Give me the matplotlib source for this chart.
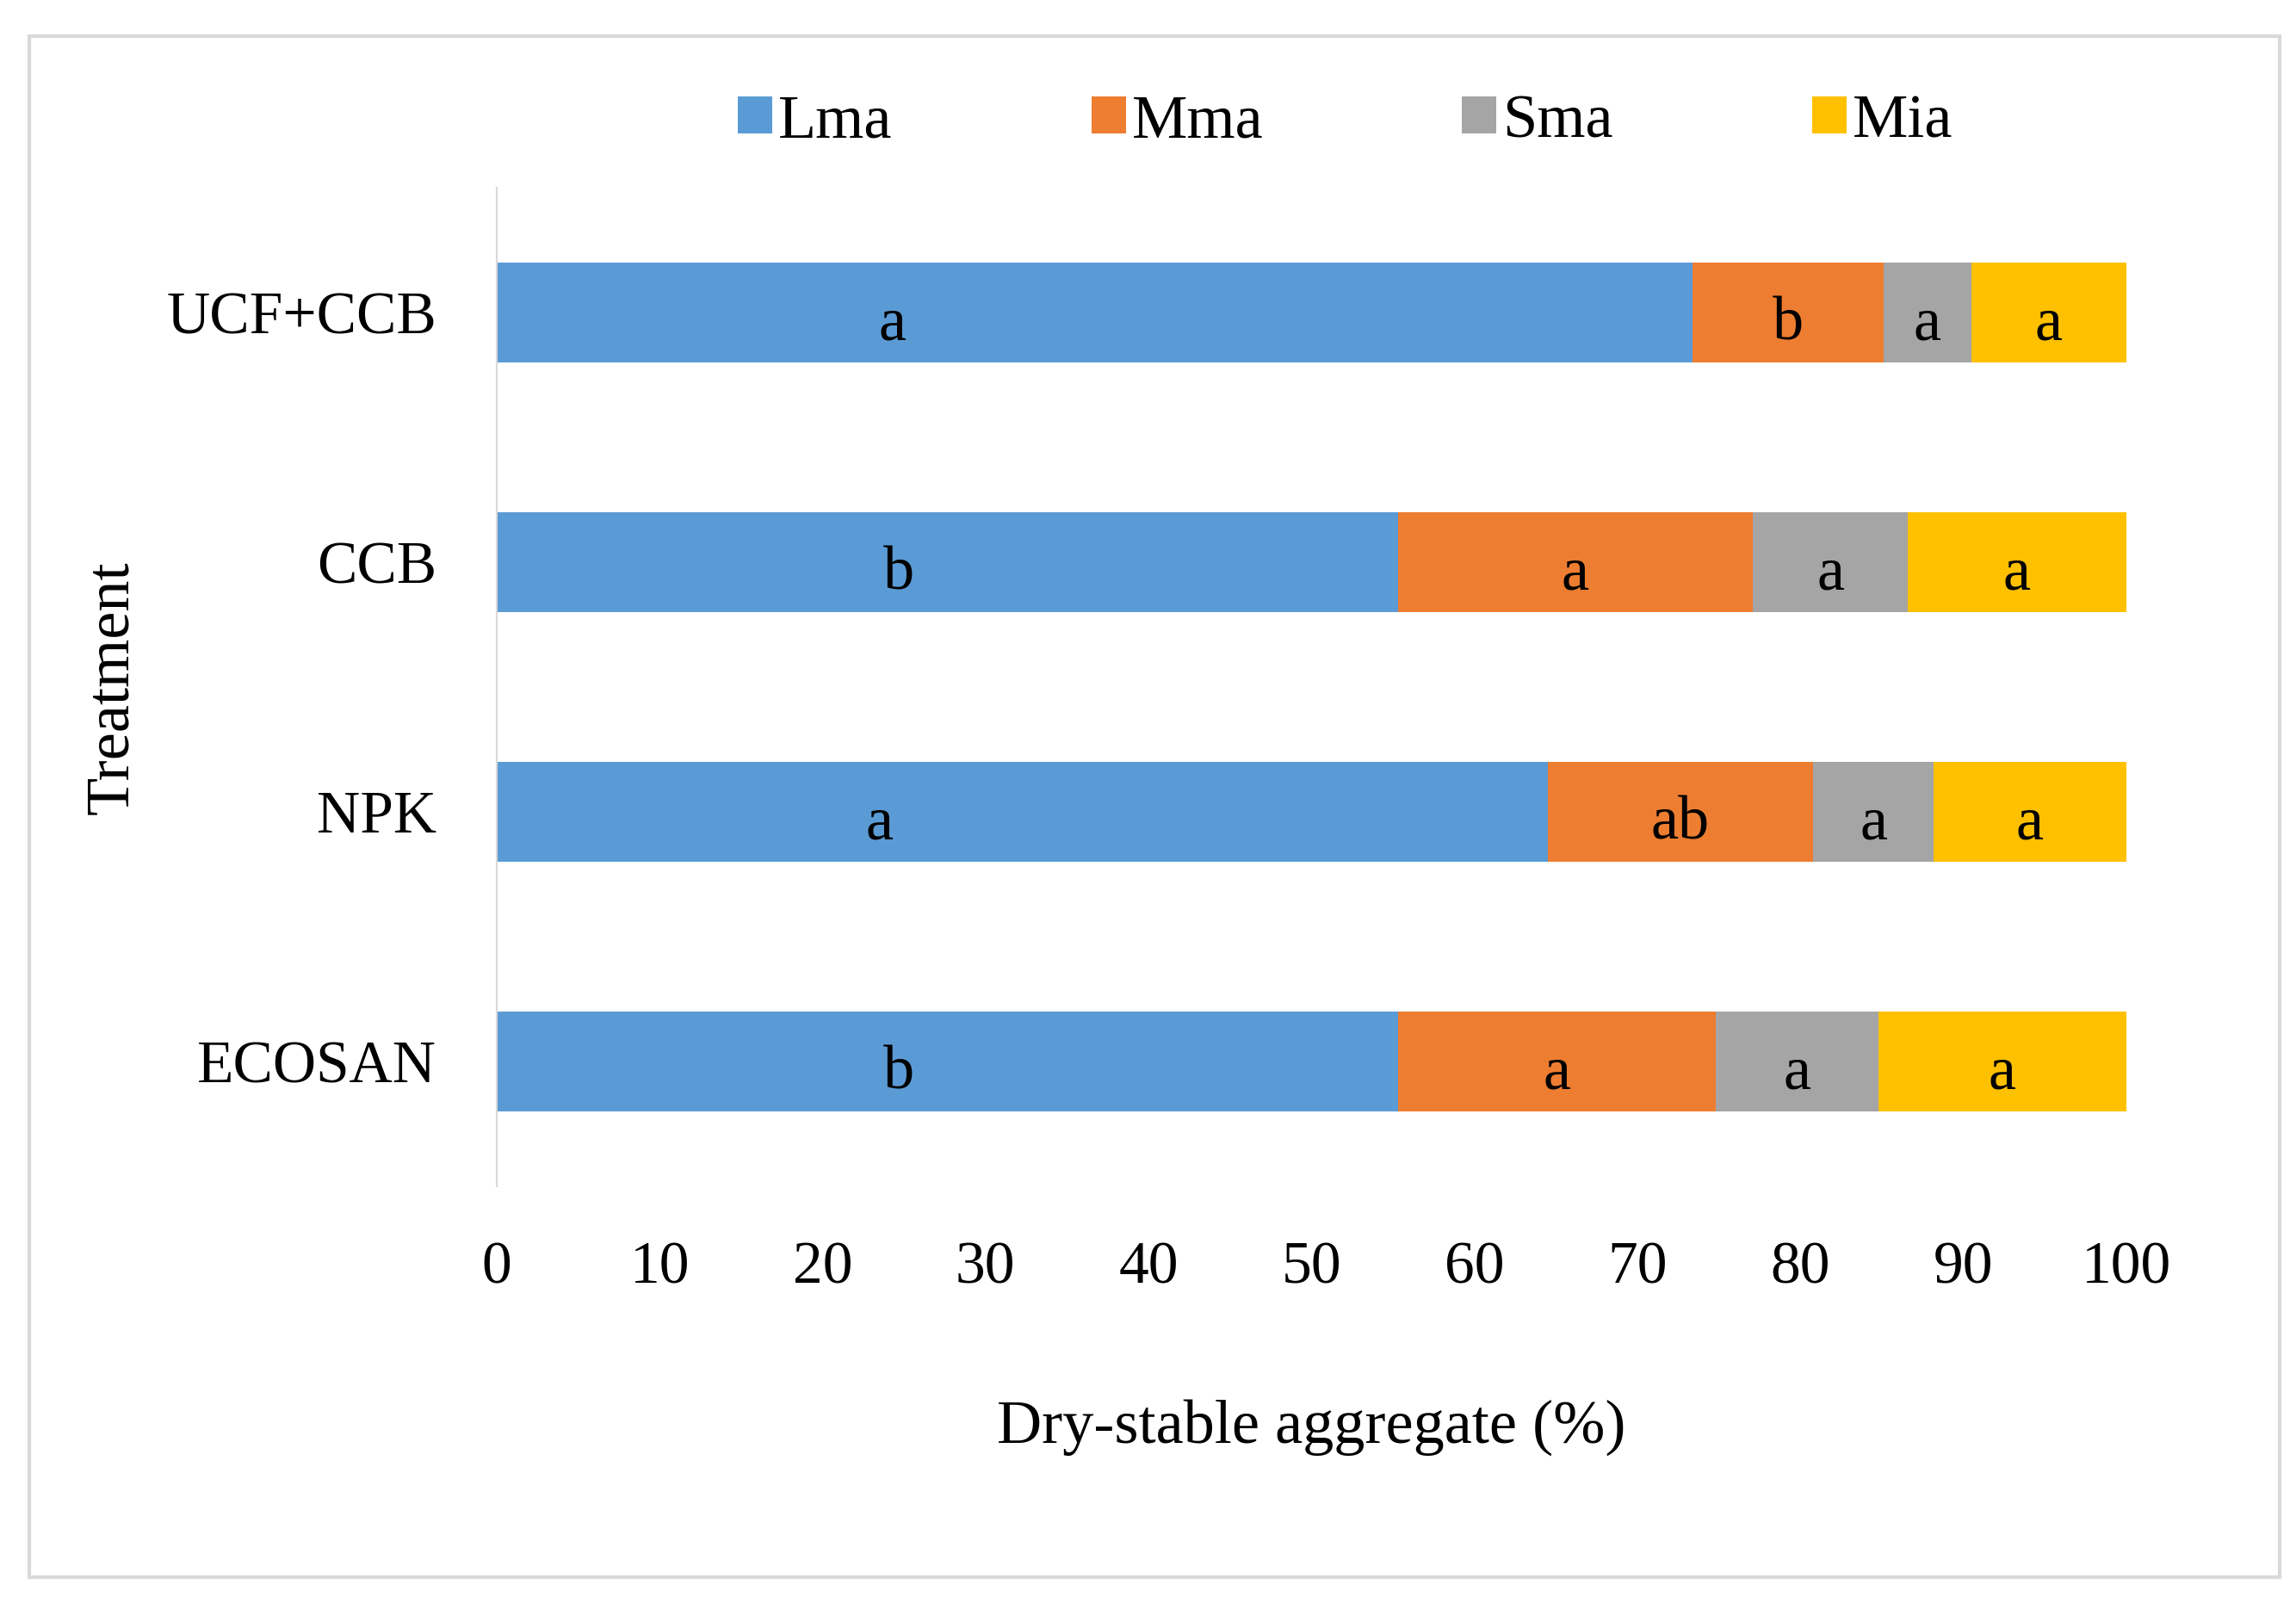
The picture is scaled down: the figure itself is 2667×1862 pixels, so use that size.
import matplotlib
matplotlib.use("Agg")
import matplotlib.pyplot as plt
from matplotlib.patches import Rectangle
import numpy as np

# data (bottom to top)
treatments = ["ECOSAN", "NPK", "CCB", "UCF+CCB"]
series_names = ["Lma", "Mma", "Sma", "Mia"]
lma = [55.3, 64.5, 55.3, 73.4]
mma = [19.5, 16.3, 21.8, 11.7]
sma = [10.0, 7.4, 9.5, 5.4]
mia = [15.2, 11.8, 13.4, 9.5]
letters = {
    "Lma": ["b", "a", "b", "a"],
    "Mma": ["a", "ab", "a", "b"],
    "Sma": ["a", "a", "a", "a"],
    "Mia": ["a", "a", "a", "a"],
}
lma_label_x = [24.7, 23.5, 24.7, 24.3]
colors = ["#5B9BD5", "#ED7D31", "#A5A5A5", "#FFC000"]

plt.rcParams["font.family"] = ["Liberation Serif", "DejaVu Serif"]

fig = plt.figure(figsize=(26.67, 18.62), dpi=100)
ax = fig.add_axes([0.2163, 0.260, 0.926 - 0.2163, 0.883 - 0.260])

y = np.arange(len(treatments))
left = np.zeros(len(treatments))
for name, vals, c in zip(series_names, [lma, mma, sma, mia], colors):
    vals = np.array(vals)
    ax.barh(y, vals, left=left, height=0.4, color=c, label=name)
    for i in range(len(treatments)):
        if name == "Lma":
            xc = lma_label_x[i]
        else:
            xc = left[i] + vals[i] / 2
        ax.text(xc, y[i] - 0.05, letters[name][i], ha="center", va="center",
                fontsize=52, color="black")
    left = left + vals

ax.set_xlim(0, 100)
ax.set_ylim(-0.5, 3.5)
ax.set_xticks(np.arange(0, 101, 10))
ax.set_yticks(y)
ax.set_yticklabels(treatments)
ax.tick_params(axis="both", length=0, labelsize=50)
ax.tick_params(axis="x", pad=46)
ax.tick_params(axis="y", pad=50)
for s in ["top", "right", "bottom"]:
    ax.spines[s].set_visible(False)
ax.spines["left"].set_color("#D9D9D9")
ax.spines["left"].set_linewidth(1.5)

ax.set_xlabel("Dry-stable aggregate (%)", fontsize=52, labelpad=86)
fig.text(0.049, 0.571, "Treatment", rotation=90, ha="center", va="center", fontsize=52)

fig.legend(loc="center", bbox_to_anchor=(0.586, 0.924), ncol=4, frameon=False,
           fontsize=52, handlelength=0.55, handleheight=0.55, handletextpad=0.1,
           columnspacing=3.2)

# outer border
fig.patches.append(Rectangle((34 / 2667, 1 - 1832 / 1862), (2648 - 34) / 2667,
                             (1832 - 42) / 1862, transform=fig.transFigure,
                             fill=False, edgecolor="#D9D9D9", linewidth=3))

fig.savefig("out.png", dpi=100)
